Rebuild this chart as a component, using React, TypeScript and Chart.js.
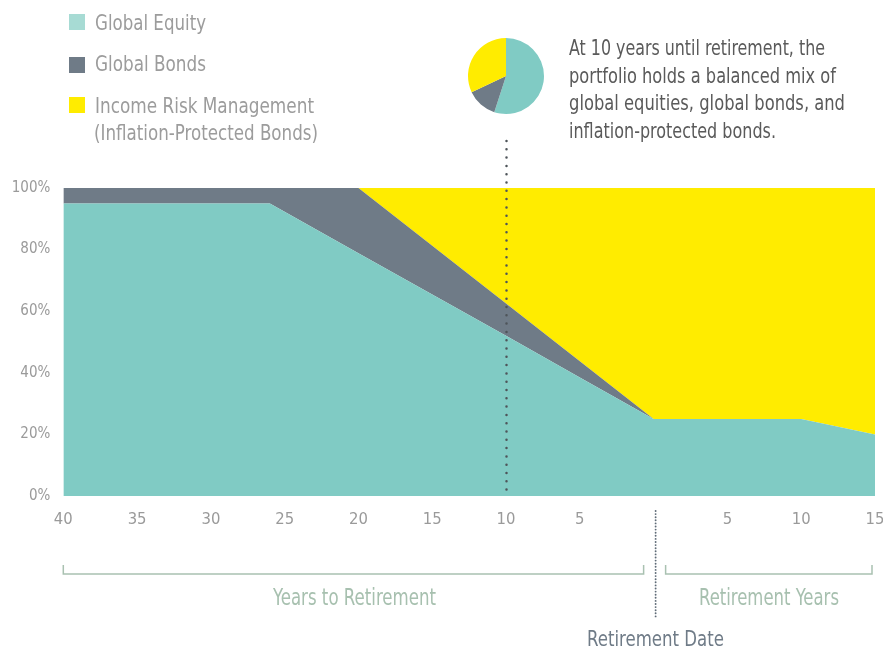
import React, { useEffect, useLayoutEffect, useRef } from "react";
import { Chart, registerables } from "chart.js";

Chart.register(...registerables);

// ---------- data ----------
const years = [-40, -26, -20, -15, -10, -5, 0, 10, 15];
const globalEquity = [95, 95, 78.8, 65.4, 52, 38.5, 25, 25, 20];
const globalBonds = [5, 5, 21.2, 15.85, 10.5, 5.25, 0, 0, 0];
const incomeRisk = [0, 0, 0, 18.75, 37.5, 56.25, 75, 75, 80];

const seriesNames = ["Global Equity", "Global Bonds", "Income Risk Management"];
const pieValues = [55, 13, 32];

const xTicksHidden = [0];
const yTickSuffix = "%";

const FONT = "'DejaVu Sans Condensed', 'DejaVu Sans', sans-serif";
const TEAL = "#80cbc4";
const TEAL_LEGEND = "#a7dbd4";
const GRAY = "#6f7b87";
const YELLOW = "#ffec00";

function FitText(props: {
  text: string;
  x: number;
  baseline: number;
  size: number;
  width: number;
  color: string;
}) {
  const ref = useRef<HTMLSpanElement>(null);
  useLayoutEffect(() => {
    const fit = () => {
      const el = ref.current;
      if (!el) return;
      el.style.transform = "none";
      const w = el.getBoundingClientRect().width;
      if (w > 0) el.style.transform = `scaleX(${props.width / w})`;
    };
    fit();
    (document as any).fonts?.ready?.then(fit);
  }, [props.text, props.width]);
  return (
    <span
      ref={ref}
      style={{
        position: "absolute",
        left: props.x,
        top: props.baseline - 0.846 * props.size,
        fontSize: props.size,
        lineHeight: `${props.size}px`,
        whiteSpace: "nowrap",
        color: props.color,
        fontFamily: FONT,
        transformOrigin: "left top",
      }}
    >
      {props.text}
    </span>
  );
}

export default function App() {
  const mainRef = useRef<HTMLCanvasElement>(null);
  const pieRef = useRef<HTMLCanvasElement>(null);

  useEffect(() => {
    const toPts = (vals: number[]) => vals.map((v, i) => ({ x: years[i], y: v }));

    const dottedPlugin = {
      id: "dotted",
      afterDatasetsDraw(chart: any) {
        const ctx = chart.ctx;
        const xs = chart.scales.x;
        const area = chart.chartArea;
        ctx.save();
        ctx.lineCap = "round";
        // 10 years marker
        ctx.strokeStyle = "#4e5459";
        ctx.lineWidth = 2.5;
        ctx.setLineDash([0, 8.3]);
        const x1 = Math.round(xs.getPixelForValue(-10)) + 0.5;
        ctx.beginPath();
        ctx.moveTo(x1, 141);
        ctx.lineTo(x1, area.bottom - 1);
        ctx.stroke();
        // retirement date marker
        ctx.strokeStyle = "#5f6b77";
        ctx.lineWidth = 1.9;
        ctx.setLineDash([0, 3.1]);
        const x2 = xs.getPixelForValue(0) + 2;
        ctx.beginPath();
        ctx.moveTo(x2, 511);
        ctx.lineTo(x2, 619);
        ctx.stroke();
        // brackets
        ctx.setLineDash([]);
        ctx.lineCap = "butt";
        ctx.strokeStyle = "#a9c1b1";
        ctx.lineWidth = 1.5;
        const by = 574;
        const segs = [
          [xs.getPixelForValue(-40), xs.getPixelForValue(0) - 10],
          [xs.getPixelForValue(0) + 12, xs.getPixelForValue(15) - 3],
        ];
        for (const [a, b] of segs) {
          ctx.beginPath();
          ctx.moveTo(a, 565);
          ctx.lineTo(a, by);
          ctx.lineTo(b, by);
          ctx.lineTo(b, 565);
          ctx.stroke();
        }
        ctx.restore();
      },
    };

    const main = new Chart(mainRef.current!, {
      type: "line",
      data: {
        datasets: [
          { label: seriesNames[0], data: toPts(globalEquity), backgroundColor: TEAL, fill: "origin" },
          { label: seriesNames[1], data: toPts(globalBonds), backgroundColor: GRAY, fill: "-1" },
          { label: seriesNames[2], data: toPts(incomeRisk), backgroundColor: YELLOW, fill: "-1" },
        ] as any,
      },
      options: {
        animation: false,
        responsive: false,
        layout: { padding: { top: 188, right: 8, left: 0, bottom: 0 } },
        elements: { line: { borderWidth: 0, tension: 0 }, point: { radius: 0 } },
        plugins: { legend: { display: false }, tooltip: { enabled: false } },
        scales: {
          x: {
            type: "linear",
            min: -40,
            max: 15,
            grid: { display: false, drawTicks: false },
            border: { display: false },
            ticks: {
              stepSize: 5,
              padding: 14,
              color: "#9a9a9a",
              font: { family: FONT, size: 16.5 },
              callback: (v: any) => (xTicksHidden.includes(v) ? null : String(Math.abs(v))),
            },
            afterFit: (s: any) => {
              s.height = 153;
              s.paddingLeft = 0;
              s.paddingRight = 0;
            },
          },
          y: {
            stacked: true,
            min: 0,
            max: 100,
            grid: { display: false, drawTicks: false },
            border: { display: false },
            ticks: {
              stepSize: 20,
              padding: 13,
              color: "#9a9a9a",
              font: { family: FONT, size: 15 },
              callback: (v: any) => v + yTickSuffix,
            },
            afterFit: (s: any) => {
              s.width = 63.3;
              s.paddingTop = 0;
              s.paddingBottom = 0;
            },
          },
        },
      } as any,
      plugins: [dottedPlugin],
    });

    const pie = new Chart(pieRef.current!, {
      type: "pie",
      data: {
        labels: seriesNames,
        datasets: [{ data: pieValues, backgroundColor: [TEAL, GRAY, YELLOW], borderWidth: 0 }],
      },
      options: {
        animation: false,
        responsive: false,
        radius: 38,
        layout: { padding: 0 },
        plugins: { legend: { display: false }, tooltip: { enabled: false } },
      } as any,
    });

    return () => {
      main.destroy();
      pie.destroy();
    };
  }, []);

  const sq = (top: number, color: string) => (
    <div style={{ position: "absolute", left: 69, top, width: 16, height: 16, background: color }} />
  );

  return (
    <div
      style={{
        position: "fixed",
        left: 0,
        top: 0,
        width: 883,
        height: 649,
        background: "#fff",
        overflow: "hidden",
      }}
    >
      <canvas ref={mainRef} width={883} height={649} style={{ position: "absolute", left: 0, top: 0 }} />
      <canvas ref={pieRef} width={80} height={80} style={{ position: "absolute", left: 466, top: 36 }} />

      {sq(14, TEAL_LEGEND)}
      {sq(56.5, GRAY)}
      {sq(97, YELLOW)}
      <FitText text="Global Equity" x={94.5} baseline={30.2} size={22} width={111} color="#9c9c9c" />
      <FitText text="Global Bonds" x={94.5} baseline={71.8} size={22} width={111} color="#9c9c9c" />
      <FitText text="Income Risk Management" x={94.5} baseline={113.3} size={22} width={219} color="#9c9c9c" />
      <FitText text="(Inflation-Protected Bonds)" x={94} baseline={140.5} size={22} width={224} color="#9c9c9c" />

      <FitText text="At 10 years until retirement, the" x={569.3} baseline={55} size={20.5} width={256} color="#5a5a5a" />
      <FitText text="portfolio holds a balanced mix of" x={569.3} baseline={83} size={20.5} width={267} color="#5a5a5a" />
      <FitText text="global equities, global bonds, and" x={569.3} baseline={110.5} size={20.5} width={276} color="#5a5a5a" />
      <FitText text="inflation-protected bonds." x={569.3} baseline={138.3} size={20.5} width={207} color="#5a5a5a" />

      <FitText text="Years to Retirement" x={272.5} baseline={605} size={23} width={163} color="#a7c0af" />
      <FitText text="Retirement Years" x={699} baseline={605} size={23} width={140} color="#a7c0af" />
      <FitText text="Retirement Date" x={586.5} baseline={646.7} size={21} width={137} color={GRAY} />
    </div>
  );
}
